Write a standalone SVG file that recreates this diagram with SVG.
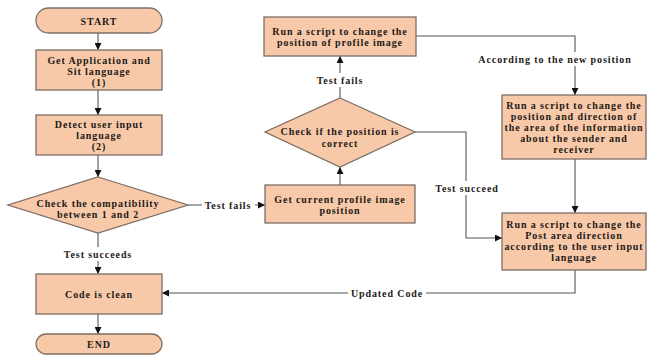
<svg xmlns="http://www.w3.org/2000/svg" width="649" height="355" viewBox="0 0 649 355">
<style>
  .n { fill: #F7C9A8; stroke: #7d6e66; stroke-width: 1.3; }
  .t { font-family: "Liberation Serif", "Times New Roman", serif; font-weight: bold; font-size: 10px; letter-spacing: 0.9px; fill: #1e1a18; text-anchor: middle; dominant-baseline: central; }
  .c { fill: none; stroke: #555; stroke-width: 1.1; }
  .bg { fill: #ffffff; }
</style>
<defs>
  <marker id="ah" viewBox="0 0 10 10" refX="10" refY="5" markerWidth="7" markerHeight="7" markerUnits="userSpaceOnUse" orient="auto">
    <path d="M0,0 L10,5 L0,10 z" fill="#111"/>
  </marker>
</defs>
<rect width="649" height="355" fill="#ffffff"/>

<g id="connectors">
  <path class="c" d="M98,33 L98,50" marker-end="url(#ah)"/>
  <path class="c" d="M98,90 L98,115" marker-end="url(#ah)"/>
  <path class="c" d="M98,155 L98,177" marker-end="url(#ah)"/>
  <path class="c" d="M188,205 L265,205" marker-end="url(#ah)"/>
  <path class="c" d="M340,185 L340,167" marker-end="url(#ah)"/>
  <path class="c" d="M340,98 L340,56" marker-end="url(#ah)"/>
  <path class="c" d="M416,36 L575,36 L575,95" marker-end="url(#ah)"/>
  <path class="c" d="M575,159 L575,213" marker-end="url(#ah)"/>
  <path class="c" d="M415,132 L466,132 L466,238 L502,238" marker-end="url(#ah)"/>
  <path class="c" d="M575,270 L575,293 L162,293" marker-end="url(#ah)"/>
  <path class="c" d="M98,233 L98,274" marker-end="url(#ah)"/>
  <path class="c" d="M98,314 L98,334" marker-end="url(#ah)"/>

  <rect class="bg" x="202" y="198" width="53" height="14"/>
  <text class="t" x="228" y="205">Test fails</text>
  <rect class="bg" x="314" y="73" width="52" height="14"/>
  <text class="t" x="340" y="80">Test fails</text>
  <rect class="bg" x="475" y="52" width="160" height="14"/>
  <text class="t" x="555" y="59">According to the new position</text>
  <rect class="bg" x="434" y="181" width="66" height="14"/>
  <text class="t" x="467" y="188">Test succeed</text>
  <rect class="bg" x="348" y="286" width="78" height="14"/>
  <text class="t" x="387" y="293">Updated Code</text>
  <rect class="bg" x="62" y="247" width="72" height="14"/>
  <text class="t" x="98" y="254">Test succeeds</text>
</g>

<g id="start">
  <rect class="n" x="36" y="8" width="126" height="25" rx="12.5"/>
  <text class="t" x="99" y="21">START</text>
</g>
<g id="get-app-lang">
  <rect class="n" x="36" y="50" width="126" height="40"/>
  <text class="t" x="99" y="60">Get Application and</text>
  <text class="t" x="99" y="71">Sit language</text>
  <text class="t" x="99" y="82">(1)</text>
</g>
<g id="detect-lang">
  <rect class="n" x="36" y="115" width="126" height="40"/>
  <text class="t" x="99" y="124">Detect user input</text>
  <text class="t" x="99" y="135">language</text>
  <text class="t" x="99" y="146">(2)</text>
</g>
<g id="check-compat">
  <polygon class="n" points="98,177 188,205 98,233 8,205"/>
  <text class="t" x="98" y="203">Check the compatibility</text>
  <text class="t" x="98" y="214">between 1 and 2</text>
</g>
<g id="code-clean">
  <rect class="n" x="36" y="274" width="126" height="40"/>
  <text class="t" x="99" y="294">Code is clean</text>
</g>
<g id="end">
  <rect class="n" x="36" y="334" width="126" height="20" rx="10"/>
  <text class="t" x="99" y="344">END</text>
</g>
<g id="get-position">
  <rect class="n" x="265" y="185" width="150" height="38"/>
  <text class="t" x="340" y="199">Get current profile image</text>
  <text class="t" x="340" y="210">position</text>
</g>
<g id="check-position">
  <polygon class="n" points="340,98 415,132 340,167 265,132"/>
  <text class="t" x="340" y="131">Check if the position is</text>
  <text class="t" x="340" y="143">correct</text>
</g>
<g id="run-profile">
  <rect class="n" x="264" y="17" width="152" height="39"/>
  <text class="t" x="340" y="31">Run a script to change the</text>
  <text class="t" x="340" y="42">position of profile image</text>
</g>
<g id="run-info">
  <rect class="n" x="502" y="95" width="144" height="64"/>
  <text class="t" x="574" y="105">Run a script to change the</text>
  <text class="t" x="574" y="116">position and direction of</text>
  <text class="t" x="574" y="127">the area of the information</text>
  <text class="t" x="574" y="138">about the sender and</text>
  <text class="t" x="574" y="149">receiver</text>
</g>
<g id="run-post">
  <rect class="n" x="502" y="213" width="144" height="57"/>
  <text class="t" x="574" y="224">Run a script to change the</text>
  <text class="t" x="574" y="235">Post area direction</text>
  <text class="t" x="574" y="246">according to the user input</text>
  <text class="t" x="574" y="257">language</text>
</g>
</svg>
